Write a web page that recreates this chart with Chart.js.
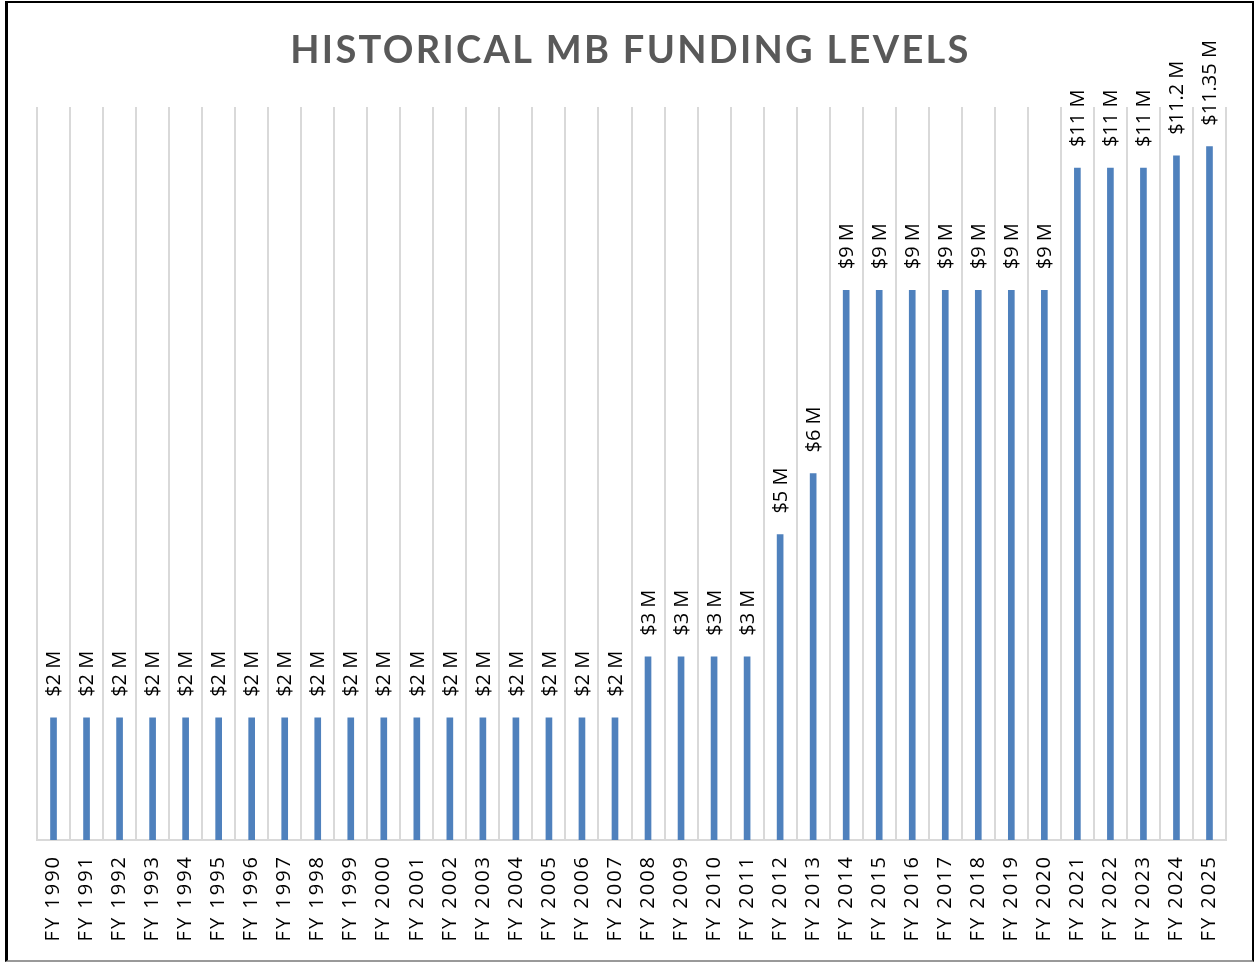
<!DOCTYPE html>
<html lang="en">
<head>
  <meta charset="UTF-8" />
  <title>Historical MB Funding Levels</title>
  <style>
    body { margin: 0; background: #fff; }
    #wrap { position: relative; width: 1255px; height: 962px; }
    #frame {
      position: absolute; left: 5px; top: 1px; right: 1px; bottom: 0;
      border-left: 3px solid #000; border-top: 2px solid #000;
      border-right: 2px solid #000; border-bottom: 2px solid #999;
      pointer-events: none;
    }
  </style>
</head>
<body>
  <div id="wrap">
    <canvas id="fundingChart"></canvas>
    <div id="frame"></div>
  </div>

  <script src="https://cdn.jsdelivr.net/npm/chart.js@4.4.1/dist/chart.umd.min.js"></script>
  <script>
    const titleText = "HISTORICAL MB FUNDING LEVELS";

    const fiscalYears = [
      "FY 1990", "FY 1991", "FY 1992", "FY 1993", "FY 1994", "FY 1995",
      "FY 1996", "FY 1997", "FY 1998", "FY 1999", "FY 2000", "FY 2001",
      "FY 2002", "FY 2003", "FY 2004", "FY 2005", "FY 2006", "FY 2007",
      "FY 2008", "FY 2009", "FY 2010", "FY 2011", "FY 2012", "FY 2013",
      "FY 2014", "FY 2015", "FY 2016", "FY 2017", "FY 2018", "FY 2019",
      "FY 2020", "FY 2021", "FY 2022", "FY 2023", "FY 2024", "FY 2025"
    ];

    // funding in millions of dollars
    const funding = [
      2, 2, 2, 2, 2, 2,
      2, 2, 2, 2, 2, 2,
      2, 2, 2, 2, 2, 2,
      3, 3, 3, 3, 5, 6,
      9, 9, 9, 9, 9, 9,
      9, 11, 11, 11, 11.2, 11.35
    ];

    const fundingLabels = funding.map(v => `$${v} M`);

    // custom title + rotated value labels
    const extrasPlugin = {
      id: "extras",
      beforeDraw(chart) {
        const ctx = chart.ctx;
        ctx.save();
        ctx.letterSpacing = "2.3px";
        ctx.font = "bold 38px Lato";
        ctx.fillStyle = "#595959";
        ctx.textAlign = "center";
        ctx.textBaseline = "alphabetic";
        ctx.fillText(titleText, chart.width / 2 + 3, 63);
        ctx.restore();
        // spacing used by the x tick labels
        ctx.letterSpacing = "2px";
      },
      afterDatasetsDraw(chart) {
        const ctx = chart.ctx;
        const meta = chart.getDatasetMeta(0);
        ctx.save();
        ctx.letterSpacing = "0px";
        ctx.font = "20px 'Open Sans'";
        ctx.fillStyle = "#000";
        ctx.textAlign = "left";
        ctx.textBaseline = "middle";
        meta.data.forEach((bar, i) => {
          ctx.save();
          ctx.translate(bar.x, bar.y - 21);
          ctx.rotate(-Math.PI / 2);
          ctx.fillText(fundingLabels[i], 0, 1);
          ctx.restore();
        });
        ctx.restore();
      }
    };

    new Chart(document.getElementById("fundingChart"), {
      type: "bar",
      data: {
        labels: fiscalYears,
        datasets: [{
          data: funding,
          backgroundColor: "#4F81BD",
          barThickness: 6
        }]
      },
      options: {
        responsive: true,
        maintainAspectRatio: false,
        animation: false,
        layout: { padding: { left: 37, right: 29, top: 107, bottom: 0 } },
        plugins: {
          legend: { display: false },
          tooltip: { enabled: false }
        },
        scales: {
          x: {
            grid: { color: "#d9d9d9", lineWidth: 2, drawTicks: false, offset: true },
            border: { color: "#d9d9d9", width: 2 },
            ticks: {
              autoSkip: false,
              minRotation: 90,
              maxRotation: 90,
              padding: 15,
              color: "#000",
              font: { family: "'Open Sans'", size: 20 }
            },
            afterFit(scale) { scale.height = 122; }
          },
          y: {
            display: false,
            min: 0,
            max: 12
          }
        }
      },
      plugins: [extrasPlugin]
    });
  </script>
</body>
</html>
